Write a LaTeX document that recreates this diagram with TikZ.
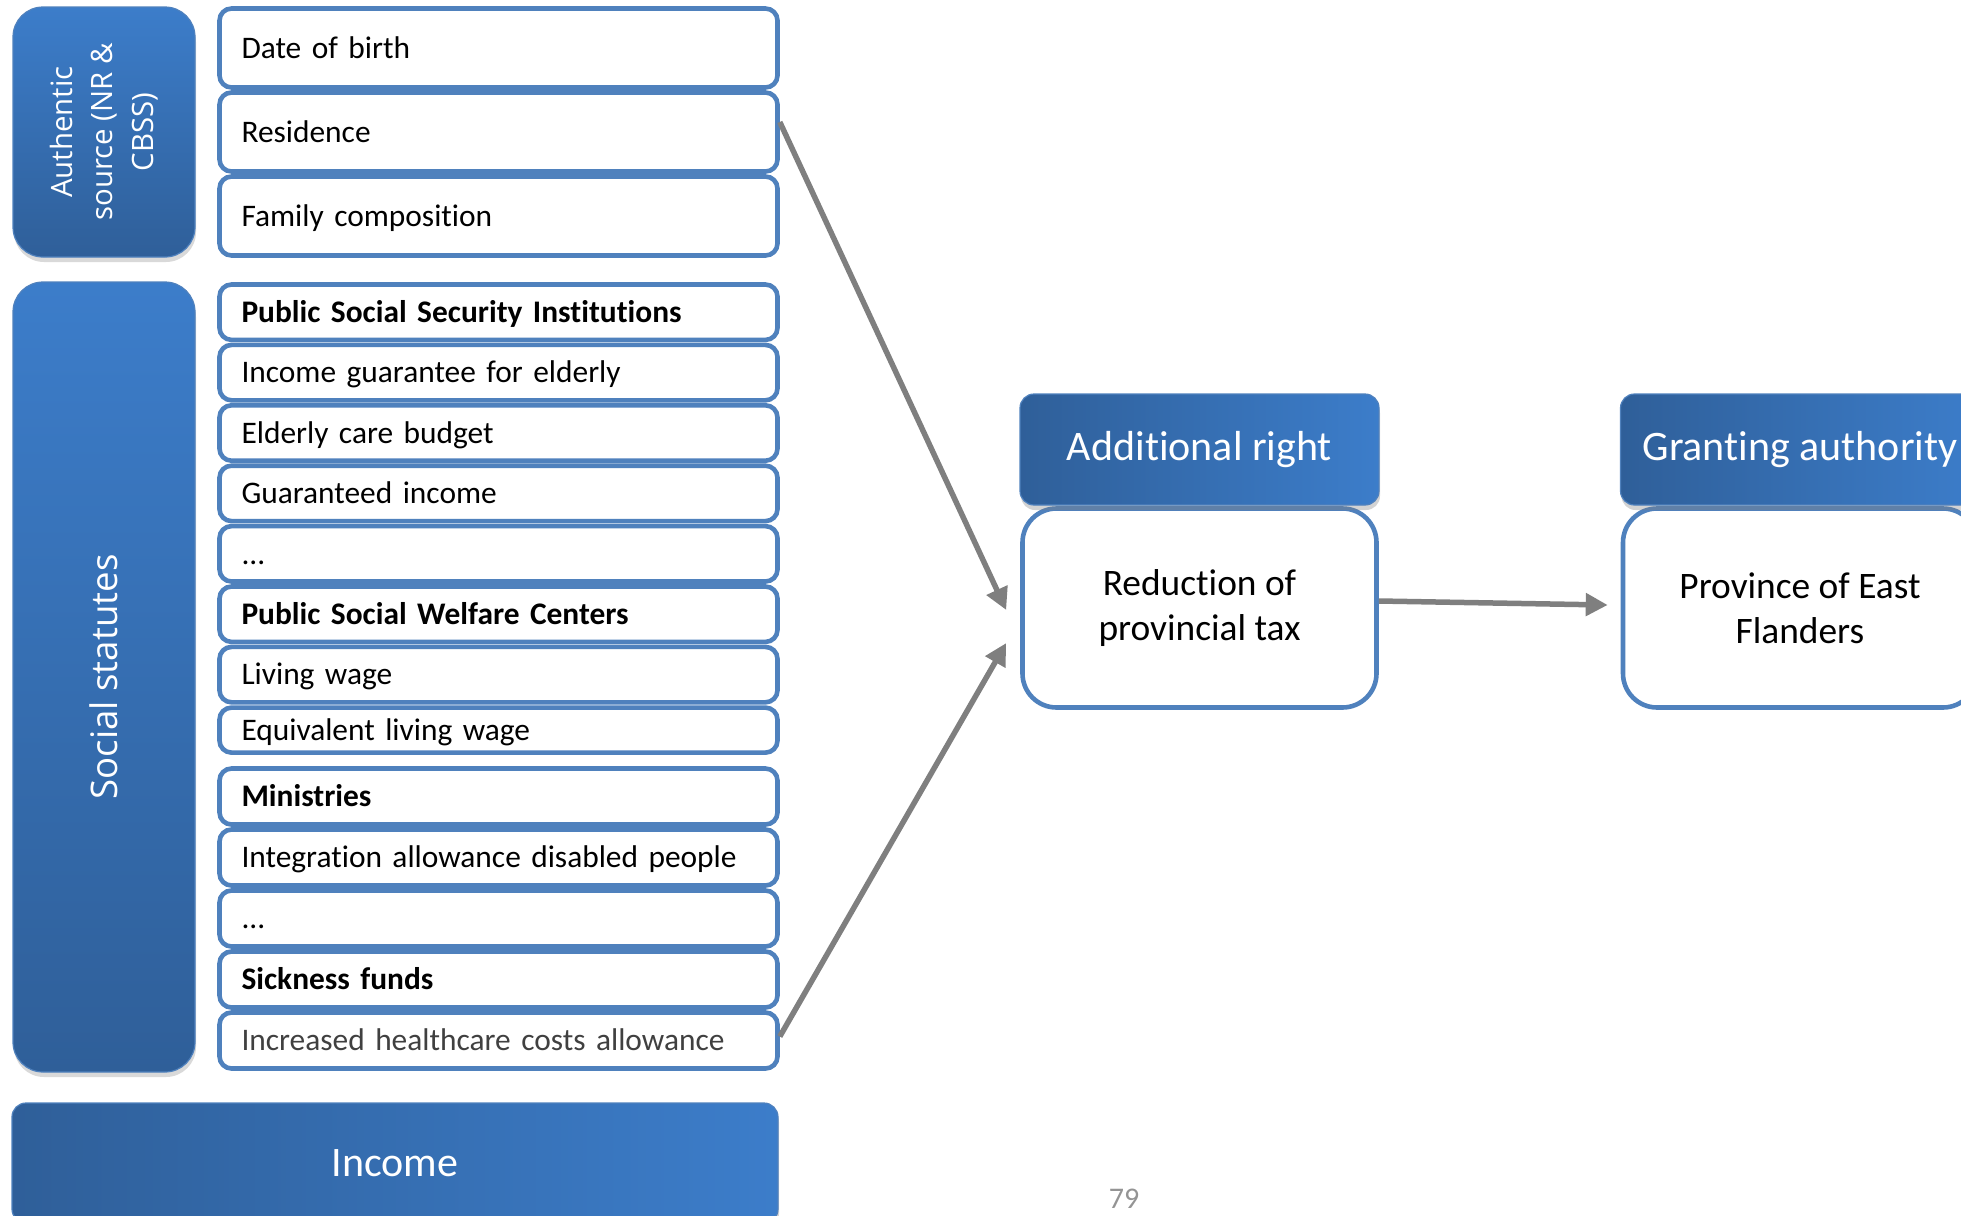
\documentclass[tikz,border=0pt]{standalone}
\usepackage{fontspec}
\setmainfont{Carlito}[Ligatures=NoCommon]
\newfontfamily\sidefont{Open Sans}
\usetikzlibrary{arrows.meta,shadows}

\definecolor{rowline}{HTML}{4F81BD}
\definecolor{deepblue}{HTML}{2F5F99}
\definecolor{paleblue}{HTML}{3C7DCA}
\definecolor{linkgray}{HTML}{7F7F7F}

\begin{document}
\begin{tikzpicture}[x=0.5pt,y=-0.5pt,->,>={Triangle[length=11pt,width=11pt]},
  node distance=30.2pt,
  row/.style={rectangle,rounded corners=6pt,draw=rowline,line width=2.3pt,fill=white,
    minimum width=279pt,minimum height=27.7pt,text width=257pt,inner xsep=11pt,
    inner ysep=0pt,text height=12pt,text depth=1.7pt,align=left,
    font=\fontsize{15.7}{19}\selectfont},
  rowhead/.style={row,font=\fontsize{15.7}{19}\selectfont\bfseries},
  side/.style={rectangle,rounded corners=15pt,draw=rowline,line width=0.6pt,
    top color=paleblue,bottom color=deepblue,minimum width=91pt,text=white,
    drop shadow={opacity=0.3,shadow xshift=0.5pt,shadow yshift=-2.5pt}},
  head/.style={rectangle,rounded corners=7pt,draw=rowline,line width=0.6pt,
    left color=deepblue,right color=paleblue,text=white,
    minimum width=179.5pt,minimum height=55.5pt,font=\fontsize{21}{25}\selectfont,
    drop shadow={opacity=0.35,shadow xshift=0.5pt,shadow yshift=-2.5pt}},
  body/.style={rectangle,rounded corners=17pt,draw=rowline,line width=2.3pt,fill=white,
    minimum width=177pt,minimum height=99.5pt,align=center,
    font=\fontsize{18.7}{22.5}\selectfont}]

  \useasboundingbox (0,0) rectangle (1961,1216);
  \clip (0,0) rectangle (1961,1216);

  % authentic source
  \node[side,minimum height=125pt] (17) at (104,132)
    {\rotatebox{90}{\parbox{110pt}{\centering\sidefont\fontsize{14.7}{20.3}\selectfont
      Authentic\\source (NR \&\\CBSS)}}};
  \node[row,minimum height=39.5pt] (1) at (498.5,48) {Date of birth};
  \node[row,minimum height=39.5pt,node distance=42pt] (2) [below of=1] {Residence};
  \node[row,minimum height=39.5pt,node distance=42pt] (3) [below of=2] {Family composition};

  % social statutes
  \node[side,minimum height=395pt] (18) at (104,677)
    {\rotatebox{90}{\sidefont\fontsize{18.3}{22}\selectfont Social statutes}};
  \node[rowhead] (4) at (498.5,312.2) {Public Social Security Institutions};
  \node[row] (5) [below of=4] {Income guarantee for elderly};
  \node[row] (6) [below of=5] {Elderly care budget};
  \node[row] (7) [below of=6] {Guaranteed income};
  \node[row] (8) [below of=7] {...};
  \node[rowhead] (9) [below of=8] {Public Social Welfare Centers};
  \node[row] (10) [below of=9] {Living wage};
  \node[row,minimum height=22.5pt,node distance=27.75pt] (11) [below of=10] {Equivalent living wage};
  \node[rowhead,minimum height=28pt,node distance=33.2pt] (12) [below of=11] {Ministries};
  \node[row,minimum height=28pt,node distance=30.5pt] (13) [below of=12] {Integration allowance disabled people};
  \node[row,minimum height=28pt,node distance=30.5pt] (14) [below of=13] {...};
  \node[rowhead,minimum height=28pt,node distance=30.5pt] (15) [below of=14] {Sickness funds};
  \node[row,minimum height=28pt,node distance=30.5pt,text=black!75] (16) [below of=15] {Increased healthcare costs allowance};

  \node[head,minimum width=383pt,minimum height=60pt,drop shadow={opacity=0}] (19) at (395,1163) {Income};

  % right part
  \node[body] (20) at (1199.5,608) {Reduction of\\provincial tax};
  \node[head,node distance=79.25pt] (21) [above of=20] {Additional right};
  \node[body] (22) at (1800,608) {Province of East\\Flanders};
  \node[head,node distance=79.25pt] (23) [above of=22] {Granting authority};

  \node[text=black!42,inner sep=0pt,font=\fontsize{15}{17}\selectfont] (24) at (1124,1199) {79};

  \path[every edge/.style={draw=linkgray,line width=2.75pt}]
    ([yshift=5pt]2.east) edge ([xshift=-7pt,yshift=-1pt]20.west)
    ([yshift=2pt]16.east) edge ([xshift=-7pt,yshift=-17.5pt]20.west)
    ([yshift=3.5pt]20.east) edge ([xshift=-6.5pt,yshift=1.5pt]22.west);
\end{tikzpicture}
\end{document}
